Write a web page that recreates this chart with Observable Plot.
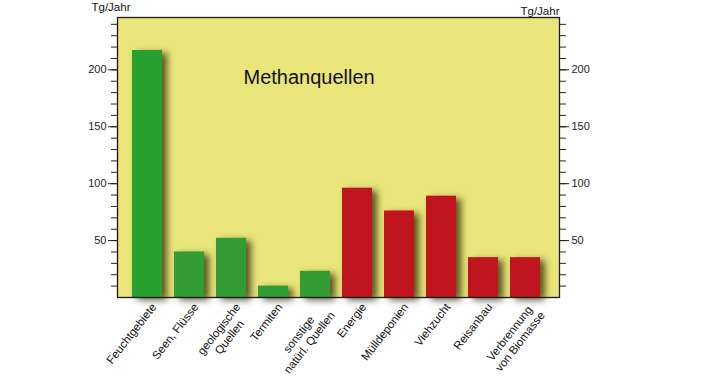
<!DOCTYPE html>
<html>
<head>
<meta charset="utf-8">
<script src="https://cdn.jsdelivr.net/npm/d3@7"></script>
<script src="https://cdn.jsdelivr.net/npm/@observablehq/plot@0.6"></script>
<style>
  html, body { margin: 0; padding: 0; background: #fff; }
  #chart svg { display: block; }
  #chart g[aria-label="bar"] { filter: drop-shadow(5px 3px 3.5px rgba(40, 35, 0, 0.75)); }
</style>
</head>
<body>
<div id="chart"></div>
<script>
// ---- data ----
const categories = [
  "Feuchtgebiete", "Seen, Flüsse", "geologische\nQuellen", "Termiten",
  "sonstige\nnatürl. Quellen", "Energie", "Mülldeponien", "Viehzucht",
  "Reisanbau", "Verbrennung\nvon Biomasse"
];
const values = [217, 40, 52, 10, 23, 96, 76, 89, 35, 35];
const groups = [
  "Feuchtgebiete", "natürlich", "natürlich", "natürlich", "natürlich",
  "anthropogen", "anthropogen", "anthropogen", "anthropogen", "anthropogen"
];
const majorTicks = [50, 100, 150, 200];
const minorTicks = [10, 20, 30, 40, 50, 60, 70, 80, 90, 100, 110, 120, 130, 140, 150, 160, 170, 180, 190, 200, 210, 220, 230, 240];
const title = "Methanquellen";
const unit = "Tg/Jahr";

// ---- style ----
const groupColors = {domain: ["Feuchtgebiete", "natürlich", "anthropogen"], range: ["#28a02f", "#339c35", "#c0141f"]};
const FONT = "'Liberation Sans', Arial, Helvetica, sans-serif";
const LABEL_SIZE = 11.5;
const ROT = 52;

const rows = categories.map((c, i) => ({category: c, value: values[i], group: groups[i]}));

// measure text to center multi-line labels
const ctx = document.createElement("canvas").getContext("2d");
ctx.font = LABEL_SIZE + "px " + FONT;
const ang = ROT * Math.PI / 180;
const labelMarks = categories.map((c) => {
  const w = Math.max(...c.split("\n").map((s) => ctx.measureText(s).width));
  const h = w / 2;
  return Plot.text([c], {
    x: (d) => d, y: 0,
    text: (d) => d,
    rotate: -ROT,
    textAnchor: "middle",
    lineAnchor: "top",
    lineHeight: 1.15,
    fontSize: LABEL_SIZE,
    fill: "#111",
    dx: 2 - h * Math.cos(ang),
    dy: 4 + h * Math.sin(ang)
  });
});

const plot = Plot.plot({
  width: 708,
  height: 376,
  marginLeft: 117,
  marginRight: 149,
  marginTop: 17,
  marginBottom: 79,
  style: {fontFamily: FONT, background: "transparent", overflow: "visible"},
  x: {domain: categories, paddingInner: 0.275, paddingOuter: 0.1375, insetLeft: 5, insetRight: 9, axis: null},
  y: {domain: [0, 246], axis: null},
  color: groupColors,
  marks: [
    Plot.frame({fill: "#e9e57a", stroke: null}),
    Plot.barY(rows, {x: "category", y: "value", fill: "group"}),
    Plot.frame({stroke: "#1a1a1a", strokeWidth: 1.3}),
    Plot.axisY({anchor: "left", ticks: minorTicks, tickSize: 6, tickFormat: () => "", stroke: "#222", label: null}),
    Plot.axisY({anchor: "left", ticks: majorTicks, tickSize: 9, tickPadding: 2, fontSize: 11, fill: "#222", stroke: "#222", label: null}),
    Plot.axisY({anchor: "right", ticks: minorTicks, tickSize: 6, tickFormat: () => "", stroke: "#222", label: null}),
    Plot.axisY({anchor: "right", ticks: majorTicks, tickSize: 9, tickPadding: 3, fontSize: 11, fill: "#222", stroke: "#222", label: null}),
    Plot.text([unit], {frameAnchor: "top-left", textAnchor: "start", lineAnchor: "bottom", dx: -26, dy: -7, fontSize: 11.5, fill: "#111"}),
    Plot.text([unit], {frameAnchor: "top-right", textAnchor: "end", lineAnchor: "bottom", dx: 0, dy: -3, fontSize: 11.5, fill: "#111"}),
    Plot.text([title], {frameAnchor: "top-left", textAnchor: "start", lineAnchor: "bottom", dx: 126, dy: 66, fontSize: 20, fill: "#111"}),
    ...labelMarks
  ]
});
document.getElementById("chart").appendChild(plot);
</script>
</body>
</html>
